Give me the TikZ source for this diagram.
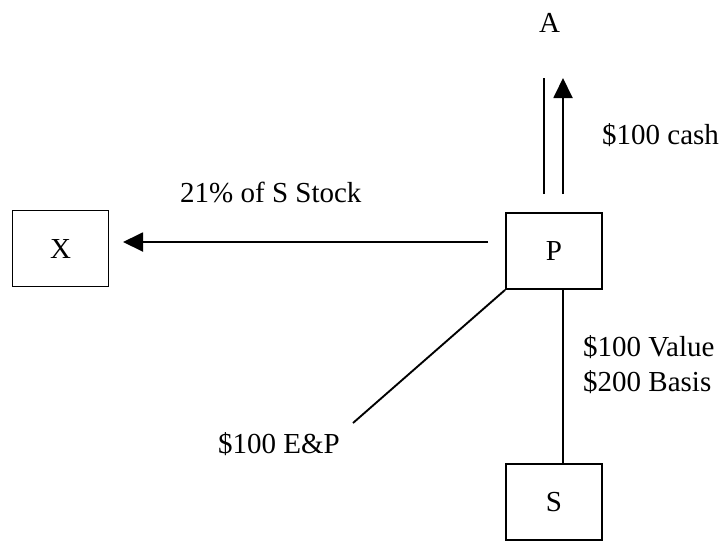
\documentclass[tikz,border=0pt]{standalone}
\usepackage{fontspec}
\setmainfont{Liberation Serif}
\usetikzlibrary{arrows.meta}
\begin{document}
\begin{tikzpicture}[x=1pt,y=-1pt,
  every node/.style={font=\fontsize{29}{34}\selectfont},
  entity/.style={draw,line width=1.9pt,minimum width=96pt,minimum height=76pt,inner sep=0pt},
  lbl/.style={inner sep=0pt,anchor=base west},
  link/.style={line width=1.9pt},
  flow/.style={line width=1.9pt,-{Triangle[length=20pt,width=19pt]}}]
\useasboundingbox (0,0) rectangle (722,542);
% entities
\node[entity] (X) at (60.5,248.5) {X};
\node[entity] (P) at (554,251) {P};
\node[entity] (S) at (554,502) {S};
\node[inner sep=0pt,anchor=base] (A) at (549.5,32) {A};
% connector end points
\coordinate (xa) at (488,242);
\coordinate (xb) at (123,242);
\coordinate (ua1) at (544,194);
\coordinate (ua2) at (544,78);
\coordinate (ub1) at (563,194);
\coordinate (ub2) at (563,78);
\coordinate (ep) at (353,423);
% connectors
\draw[flow] (xa) -- (xb);
\draw[link] (ua1) -- (ua2);
\draw[flow] (ub1) -- (ub2);
\draw[link] (P.south west) -- (ep);
\draw[link] (P.south -| 563,0) -- (S.north -| 563,0);
% labels
\node[lbl] (lstock) at (180,202) {21\% of S Stock};
\node[lbl] (lcash) at (602,144) {\$100 cash};
\node[lbl] (lep) at (218,453) {\$100 E\&P};
\node[lbl] (lval) at (583,356) {\$100 Value};
\node[lbl] (lbas) at (583,391) {\$200 Basis};
\end{tikzpicture}
\end{document}
